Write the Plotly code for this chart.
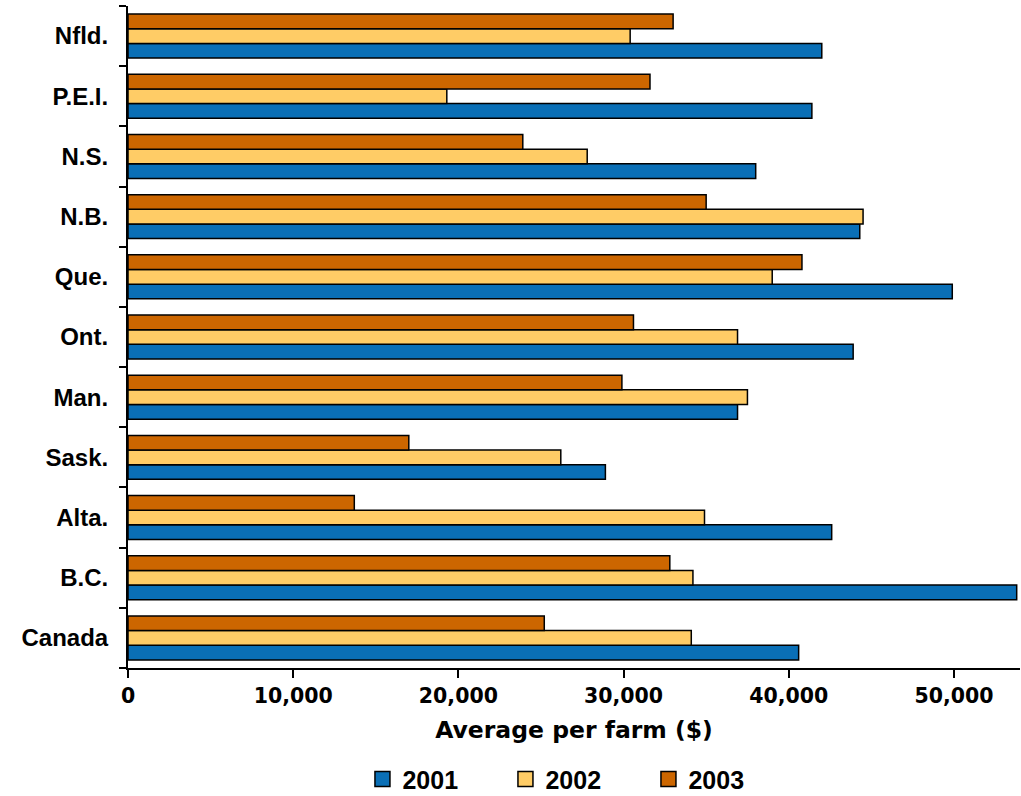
import plotly.graph_objects as go

# Provinces listed top to bottom
regions = ["Nfld.", "P.E.I.", "N.S.", "N.B.", "Que.", "Ont.", "Man.",
           "Sask.", "Alta.", "B.C.", "Canada"]

# Average per farm ($)
y2001 = [42000, 41400, 38000, 44300, 49900, 43900, 36900, 28900, 42600, 53800, 40600]
y2002 = [30400, 19300, 27800, 44500, 39000, 36900, 37500, 26200, 34900, 34200, 34100]
y2003 = [33000, 31600, 23900, 35000, 40800, 30600, 29900, 17000, 13700, 32800, 25200]

series = [("2001", y2001, "#0A6FB6"),
          ("2002", y2002, "#FFCC66"),
          ("2003", y2003, "#CC6600")]

fig = go.Figure()
for name, vals, color in series:
    fig.add_trace(go.Bar(
        y=regions, x=vals, name=name, orientation="h", showlegend=False,
        marker=dict(color=color, line=dict(color="black", width=1.5)),
    ))

# Legend keys: larger outlined squares than the default bar swatches
for name, vals, color in series:
    fig.add_trace(go.Scatter(
        x=[None], y=[None], mode="markers", name=name,
        marker=dict(symbol="square", size=15, color=color,
                    line=dict(color="black", width=1.5)),
    ))

fig.update_layout(
    width=1021, height=796,
    margin=dict(l=128, r=1, t=6, b=128),
    paper_bgcolor="white", plot_bgcolor="white",
    barmode="group", bargap=0.27, bargroupgap=0,
    font=dict(family="Liberation Sans", color="black"),
    legend=dict(orientation="h", xref="container", yref="container",
                x=0.355, xanchor="left", y=0.021, yanchor="middle",
                font=dict(family="Liberation Sans", size=25, weight="bold"),
                itemwidth=30, entrywidth=98, entrywidthmode="pixels",
                traceorder="normal"),
    showlegend=True,
)

fig.update_xaxes(
    range=[0, 54000], tickvals=[0, 10000, 20000, 30000, 40000, 50000],
    tickformat=",d", showgrid=False, zeroline=False,
    showline=True, linecolor="black", linewidth=2,
    ticks="outside", ticklen=8, tickwidth=2, tickcolor="black",
    tickfont=dict(family="DejaVu Sans", size=20.5, weight="bold"),
    title=dict(text="Average per farm ($)", standoff=15,
               font=dict(family="DejaVu Sans", size=23.5, weight="bold")),
)
fig.update_yaxes(
    categoryorder="array", categoryarray=regions[::-1],
    tickson="boundaries", showgrid=False, zeroline=False,
    showline=True, linecolor="black", linewidth=2,
    ticks="outside", ticklen=7, tickwidth=2, tickcolor="black",
    ticklabelstandoff=13,
    tickfont=dict(family="Liberation Sans", size=24, weight="bold"),
)

fig.write_html("out.html")
